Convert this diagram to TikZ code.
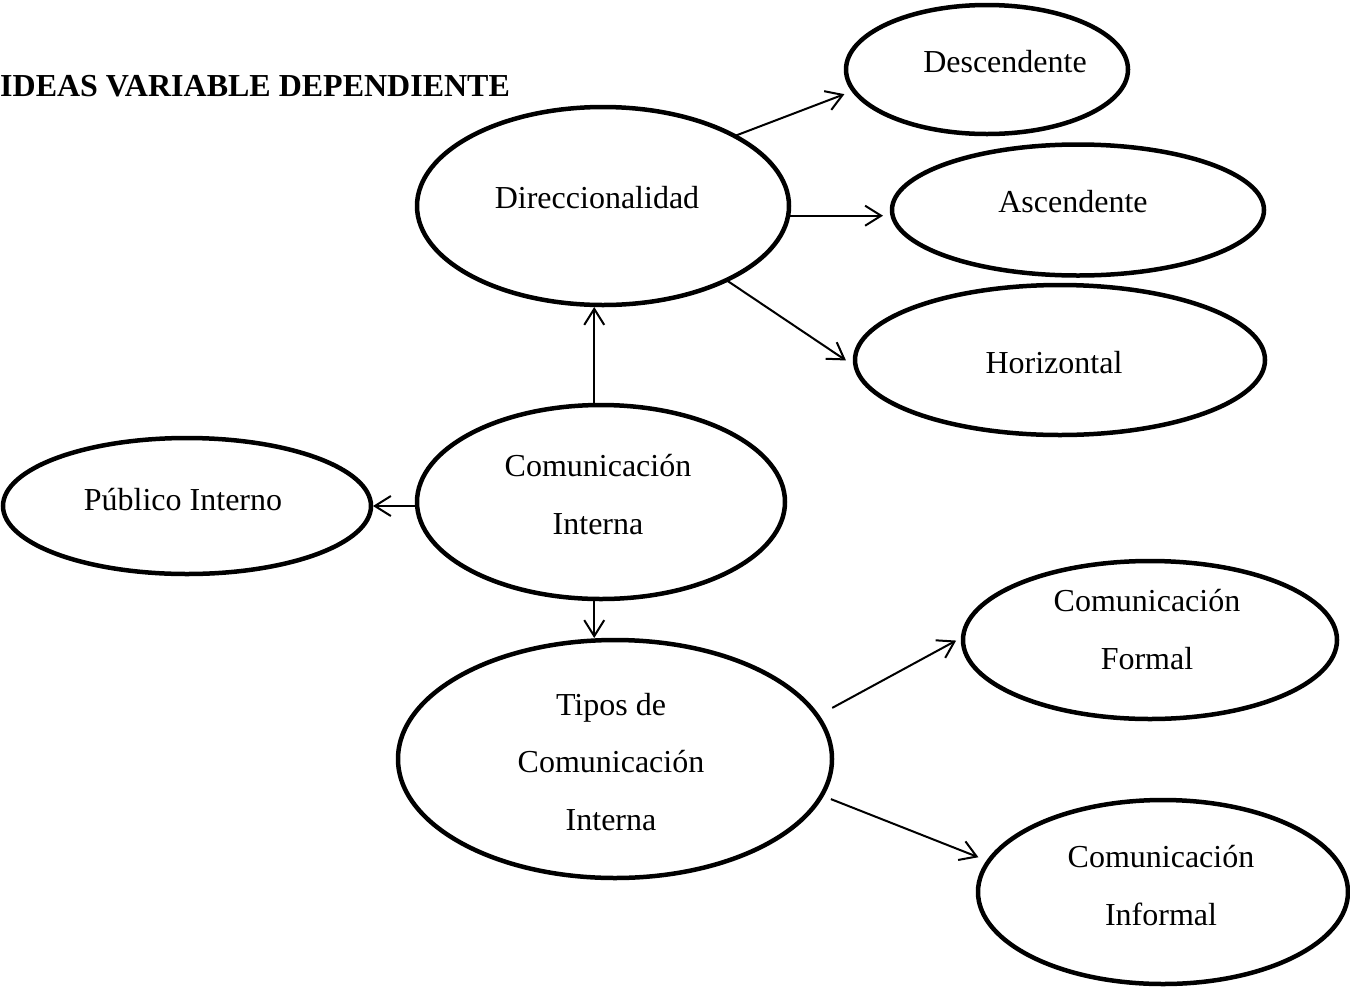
\documentclass[tikz,border=0pt]{standalone}
\usepackage{fontspec}
\setmainfont{Liberation Serif}
\usetikzlibrary{shapes.geometric,arrows.meta}
\begin{document}
\begin{tikzpicture}[x=1pt,y=-1pt,
  oval/.style={ellipse, draw, line width=4.5pt, inner sep=0pt, outer sep=0pt},
  lbl/.style={font=\fontsize{32}{57.5}\selectfont, inner sep=0pt, anchor=base, align=center},
  arr/.style={-{Straight Barb[length=16pt,width=20pt]}, line width=2pt}]
\useasboundingbox (0,0) rectangle (1350,986);

% title
\node[font=\bfseries\fontsize{32}{38}\selectfont, anchor=base west, inner sep=0pt] (title) at (0,96) {IDEAS VARIABLE DEPENDIENTE};

% ellipses
\node[oval, minimum width=282, minimum height=129] (desc) at (987,69.5) {};
\node[oval, minimum width=372, minimum height=198] (dir) at (603,206) {};
\node[oval, minimum width=372, minimum height=131] (asc) at (1078,210) {};
\node[oval, minimum width=410, minimum height=150] (hor) at (1060,360) {};
\node[oval, minimum width=368, minimum height=194] (ci) at (601,502) {};
\node[oval, minimum width=368, minimum height=136] (pub) at (187,506) {};
\node[oval, minimum width=434, minimum height=238] (tipos) at (615,759) {};
\node[oval, minimum width=374, minimum height=158] (formal) at (1150,640) {};
\node[oval, minimum width=370, minimum height=184] (inf) at (1163,892) {};

% texts (multi-line: anchor at last baseline)
\node[lbl] (desc-t) at (1005,72) {Descendente};
\node[lbl] (dir-t) at (597,208) {Direccionalidad};
\node[lbl] (asc-t) at (1073,212) {Ascendente};
\node[lbl] (hor-t) at (1054,373) {Horizontal};
\node[lbl] (pub-t) at (183,510) {Público Interno};
\node[lbl] (ci-t) at (598,534) {Comunicación\\Interna};
\node[lbl] (tipos-t) at (611,830) {Tipos de\\Comunicación\\Interna};
\node[lbl] (formal-t) at (1147,669) {Comunicación\\Formal};
\node[lbl] (inf-t) at (1161,925) {Comunicación\\Informal};

% connectors
\draw[arr, shorten >=10pt] (dir.28) -- (desc.189);
\draw[arr, shorten >=9pt] (dir.-3) -- (dir.-3 -| asc.west);
\draw[arr, shorten >=12pt] (dir.-31) -- (hor.182);
\draw[arr, shorten >=2pt] (ci.94) -- (ci.94 |- dir.south);
\draw[arr, shorten >=2pt] (ci.west |- pub.east) -- (pub.east);
\draw[arr, shorten >=2pt] (ci.-94) -- (ci.-94 |- tipos.north);
\draw[arr, shorten <=17pt, shorten >=8pt] (tipos.12) -- (formal.179);
\draw[arr, shorten <=10pt, shorten >=11pt] (tipos.-10) -- (inf.170);
\end{tikzpicture}
\end{document}
